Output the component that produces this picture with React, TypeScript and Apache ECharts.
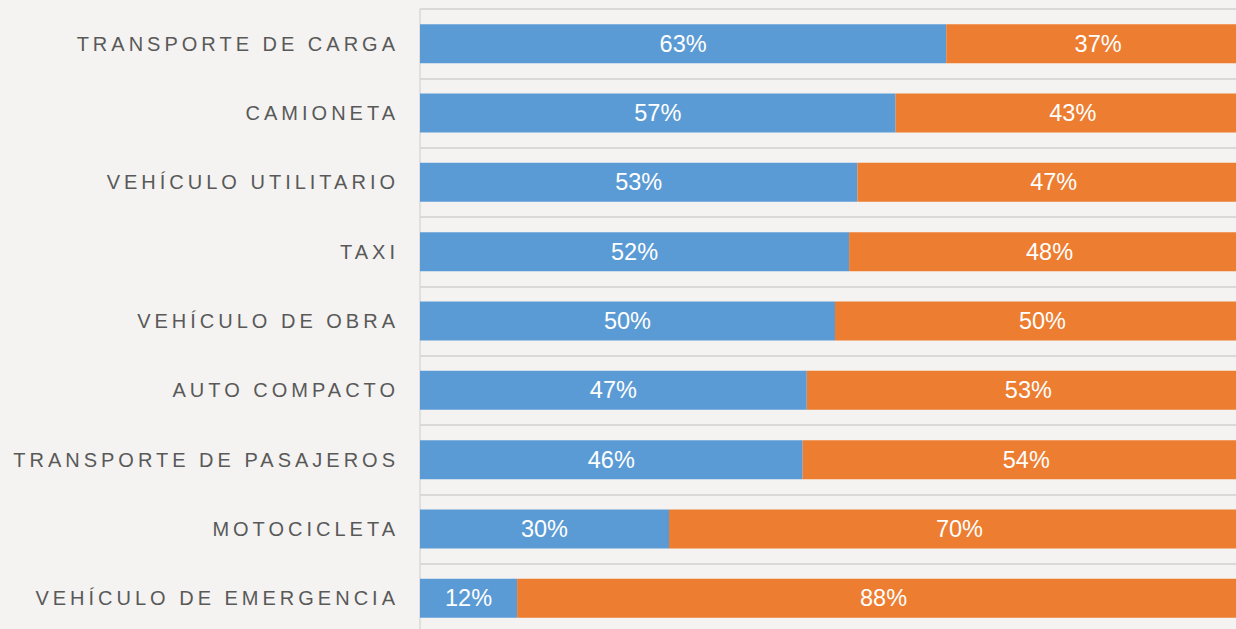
import React, { useEffect, useRef } from "react";
import * as echarts from "echarts";

const categories = [
  "TRANSPORTE DE CARGA",
  "CAMIONETA",
  "VEHÍCULO UTILITARIO",
  "TAXI",
  "VEHÍCULO DE OBRA",
  "AUTO COMPACTO",
  "TRANSPORTE DE PASAJEROS",
  "MOTOCICLETA",
  "VEHÍCULO DE EMERGENCIA",
];
const blueValues = [63.4, 57.3, 52.7, 51.7, 50.0, 46.6, 46.1, 30.0, 11.7];
const orangeValues = [36.6, 42.7, 47.3, 48.3, 50.0, 53.4, 53.9, 70.0, 88.3];

const BG = "#f4f3f1";
const GRID = "#d9d9d9";
const FONT = "'Liberation Sans', Arial, sans-serif";

export default function App() {
  const ref = useRef<HTMLDivElement>(null);
  useEffect(() => {
    if (!ref.current) return;
    const chart = echarts.init(ref.current, undefined, { renderer: "svg" });
    const labelStyle = {
      show: true,
      position: "inside" as const,
      color: "#ffffff",
      fontSize: 23.5,
      fontFamily: FONT,
      formatter: (p: any) => Math.round(p.value) + "%",
    };
    chart.setOption({
      animation: false,
      backgroundColor: BG,
      grid: { left: 420, right: 10, top: 9, bottom: 7, containLabel: false },
      xAxis: {
        type: "value",
        min: 0,
        max: 100,
        show: false,
      },
      yAxis: {
        type: "category",
        data: categories,
        inverse: true,
        axisLine: { show: true, lineStyle: { color: GRID, width: 1.5 } },
        axisTick: { show: false },
        splitLine: { show: true, lineStyle: { color: GRID, width: 2 } },
        axisLabel: {
          color: "#595959",
          fontSize: 20,
          fontFamily: FONT,
          margin: 21,
        },
      },
      series: [
        {
          type: "bar",
          stack: "total",
          data: blueValues,
          barWidth: 39,
          itemStyle: { color: "#5b9bd5" },
          label: labelStyle,
          silent: true,
        },
        {
          type: "bar",
          stack: "total",
          data: orangeValues,
          barWidth: 39,
          itemStyle: { color: "#ed7d31" },
          label: labelStyle,
          silent: true,
        },
      ],
    });
    const applySpacing = () => {
      const set = new Set(categories);
      ref.current?.querySelectorAll("text").forEach((t) => {
        if (set.has((t.textContent || "").trim())) {
          (t as SVGTextElement).style.letterSpacing = "4px";
        }
      });
    };
    applySpacing();
    chart.on("finished", applySpacing);
    const tm = setTimeout(applySpacing, 50);
    return () => {
      clearTimeout(tm);
      chart.dispose();
    };
  }, []);
  return (
    <div
      ref={ref}
      style={{ position: "fixed", left: 0, top: 0, width: 1260, height: 640 }}
    />
  );
}
